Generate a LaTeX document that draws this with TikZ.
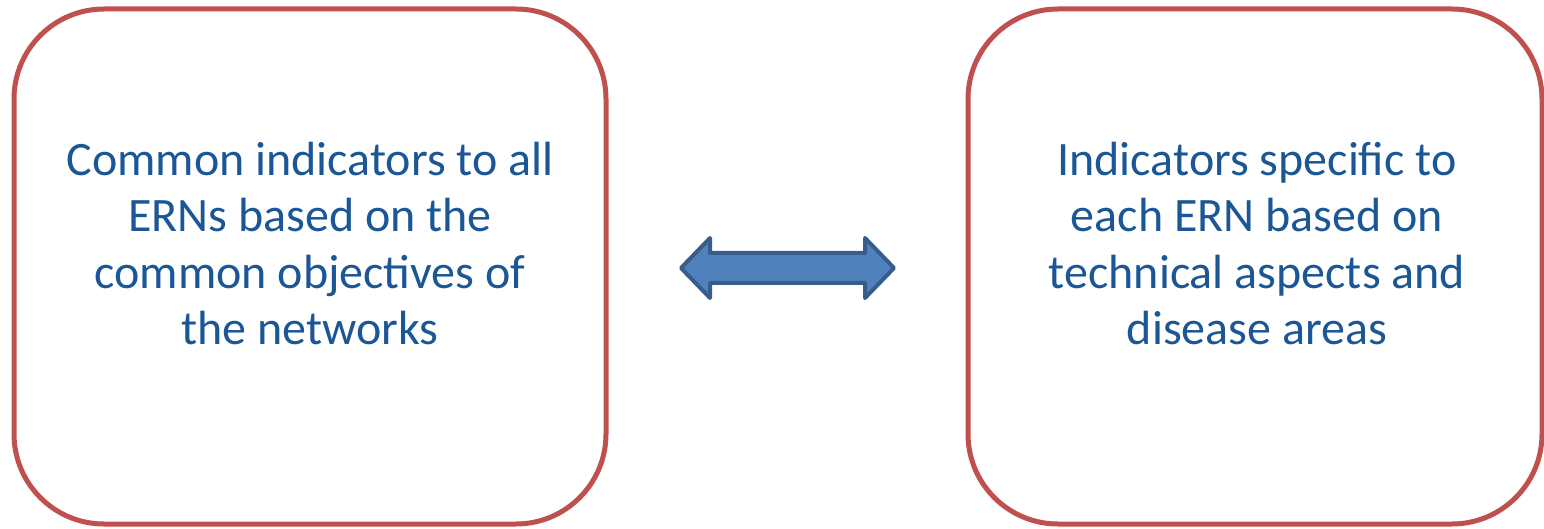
\documentclass[tikz,border=0pt]{standalone}
\usepackage{fontspec}
\setmainfont{Carlito}
\definecolor{boxred}{HTML}{C0504D}
\definecolor{txtblue}{HTML}{1B5797}
\definecolor{arrfill}{HTML}{4F81BD}
\definecolor{arrline}{HTML}{385D8A}
\begin{document}
\begin{tikzpicture}[x=1pt,y=-1pt,
  box/.style={draw=boxred,line width=5pt,rounded corners=90pt,fill=white,inner sep=0pt},
  txt/.style={text=txtblue,align=center,font=\fontsize{48}{56.5}\selectfont,inner sep=0pt},
  arr/.style={draw=arrline,fill=arrfill,line width=4pt,line join=round}]
\useasboundingbox (0,0) rectangle (1544,529);
\node[box,minimum width=592pt,minimum height=515pt] (L) at (310,266.5) {};
\node[box,minimum width=574pt,minimum height=515pt] (R) at (1255,266.5) {};
\node[txt] (Lt) at ([yshift=23pt]L.center) {Common indicators to all\\ERNs based on the\\common objectives of\\the networks};
\node[txt] (Rt) at ([yshift=23pt,xshift=2pt]R.center) {Indicators specific to\\each ERN based on\\technical aspects and\\disease areas};
\coordinate (al) at (681,268);
\coordinate (ar) at (894,268);
\draw[arr] (al) -- ++(29,-30) -- ++(0,15) -- ([xshift=-29pt,yshift=15pt]ar) -- ++(0,-15) -- (ar)
  -- ++(-29,30) -- ++(0,-15) -- ([xshift=29pt,yshift=-15pt]al) -- ++(0,15) -- cycle;
\end{tikzpicture}
\end{document}
